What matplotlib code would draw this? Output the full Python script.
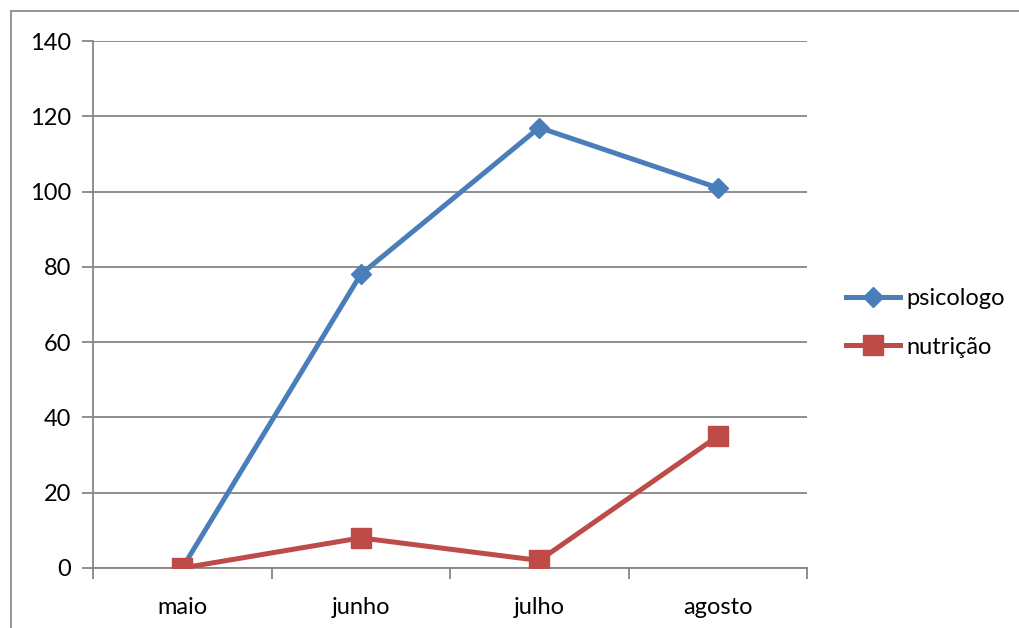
import matplotlib.pyplot as plt
from matplotlib.lines import Line2D
import numpy as np

meses = ["maio", "junho", "julho", "agosto"]
psicologo = [0, 78, 117, 101]
nutricao = [0, 8, 2, 35]

AZUL = "#4a7ebb"
VERMELHO = "#be4b48"
CINZA = "#868686"

plt.rcParams["font.family"] = ["Lato", "DejaVu Sans"]

fig = plt.figure(figsize=(10.19, 6.28), dpi=100)
ax = fig.add_axes([93 / 1019, 60 / 628, 714 / 1019, 527 / 628])

x = np.arange(len(meses))
ax.plot(x, psicologo, color=AZUL, lw=3.6, marker="D", ms=10,
        label="psicologo", zorder=3)
ax.plot(x, nutricao, color=VERMELHO, lw=3.6, marker="s", ms=14,
        label="nutrição", zorder=3)

# eixos
ax.set_xlim(-0.5, len(meses) - 0.5)
ax.set_ylim(0, 140)
ax.set_yticks(np.arange(0, 141, 20))
ax.yaxis.grid(True, color=CINZA, lw=1.3)
ax.set_axisbelow(True)

ax.set_xticks(np.arange(-0.5, len(meses), 1.0))
ax.set_xticklabels([])
ax.set_xticks(x, minor=True)
ax.set_xticklabels(meses, minor=True)
ax.tick_params(axis="x", which="major", length=8, width=1.3, color=CINZA,
               direction="out")
ax.tick_params(axis="x", which="minor", length=0, pad=21, labelsize=17)
ax.tick_params(axis="y", length=8, width=1.3, color=CINZA, labelsize=17,
               pad=8)

for s in ["top", "right"]:
    ax.spines[s].set_visible(False)
for s in ["left", "bottom"]:
    ax.spines[s].set_color(CINZA)
    ax.spines[s].set_linewidth(1.3)

ax.legend(loc="center left", bbox_to_anchor=(846 / 1019, 1 - 323 / 628),
          bbox_transform=fig.transFigure, frameon=False, fontsize=17,
          handlelength=2.3, handletextpad=0.25, labelspacing=1.15,
          borderaxespad=0, borderpad=0)

# moldura do gráfico
fig.add_artist(Line2D([11 / 1019, 11 / 1019], [0, 1 - 11 / 628],
                      transform=fig.transFigure, color="#8c8c8c", lw=1.3))
fig.add_artist(Line2D([11 / 1019, 1], [1 - 11 / 628, 1 - 11 / 628],
                      transform=fig.transFigure, color="#8c8c8c", lw=1.3))

fig.savefig("out.png", dpi=100)
